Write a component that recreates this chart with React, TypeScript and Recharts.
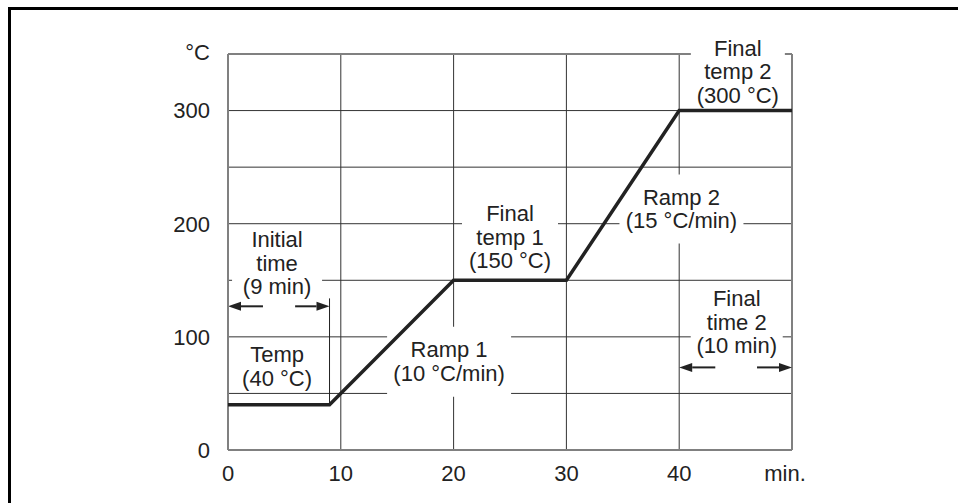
import React from 'react';
import { ComposedChart, Line, XAxis, YAxis, CartesianGrid, ReferenceLine, ReferenceDot } from 'recharts';

// temperature program: hold, ramp, hold, ramp, hold
const timeMin = [0, 9, 20, 30, 40, 50];
const tempC = [40, 40, 150, 150, 300, 300];

const xTicks = [0, 10, 20, 30, 40, 50];
const yTicks = [0, 100, 200, 300, 350];
const gridX = [10, 20, 30, 40];
const gridY = [50, 100, 150, 200, 250, 300];

const noteLines = [
  ['Initial', 'time', '(9 min)'],
  ['Temp', '(40 °C)'],
  ['Ramp 1', '(10 °C/min)'],
  ['Final', 'temp 1', '(150 °C)'],
  ['Ramp 2', '(15 °C/min)'],
  ['Final', 'time 2', '(10 min)'],
  ['Final', 'temp 2', '(300 °C)'],
];
const noteAtMin = [4.35, 4.35, 19.6, 25.0, 40.2, 45.1, 45.2];
const noteAtC = [165, 74, 78, 188, 213, 113, 334.5];

// time-span arrows: [from, to(head), at temp]
const arrowFrom = [3.1, 5.95, 43.2, 46.9];
const arrowTo = [0, 9, 40, 50];
const arrowAtC = [127, 127, 73, 73];

const data = timeMin.map((t, i) => ({ t, c: tempC[i] }));

const FONT = '"Liberation Sans", Arial, sans-serif';
const INK = '#222';
const AXIS = '#808080';
const FS = 22;
const LH = 23.5;

// white backing boxes that cut the grid behind the notes [w, h]
const boxSize: [number, number][] = [[90, 68], [0, 0], [124, 70], [96, 72], [124, 69], [92, 71], [94, 70]];

const Note = (props: any) => {
  const { cx, cy, idx } = props;
  const lines = noteLines[idx];
  const [w, h] = boxSize[idx];
  const top = cy - ((lines.length - 1) * LH) / 2;
  return (
    <g>
      {w > 0 && <rect x={cx - w / 2} y={cy - h / 2} width={w} height={h} fill="#fff" />}
      {lines.map((s, i) => (
        <text key={i} x={cx} y={top + i * LH} textAnchor="middle" dominantBaseline="central"
          fontFamily={FONT} fontSize={FS} fill={INK}>{s}</text>
      ))}
    </g>
  );
};

const Arrow = (props: any) => {
  const { x1, y1, x2, y2 } = props;
  const dir = x2 > x1 ? 1 : -1;
  const hl = 13;
  return (
    <g>
      <line x1={x1} y1={y1} x2={x2 - dir * hl} y2={y2} stroke={INK} strokeWidth={2} />
      <polygon points={`${x2},${y2} ${x2 - dir * hl},${y2 - 4.5} ${x2 - dir * hl},${y2 + 4.5}`} fill={INK} />
    </g>
  );
};

const XTick = (props: any) => {
  const { x, y, payload } = props;
  const last = payload.value === 50;
  return (
    <text x={last ? x - 7 : x} y={y} dy="0.71em" textAnchor="middle" fontFamily={FONT} fontSize={FS} fill={INK}>
      {last ? 'min.' : payload.value}
    </text>
  );
};

const YTick = (props: any) => {
  const { x, y, payload } = props;
  return (
    <text x={x} y={payload.value === 350 ? y - 2 : y} dy="0.355em" textAnchor="end" fontFamily={FONT} fontSize={FS} fill={INK}>
      {payload.value === 350 ? '°C' : payload.value}
    </text>
  );
};

export default function App() {
  return (
    <div style={{ position: 'absolute', left: 0, top: 0, width: 958, height: 503, background: '#fff' }}>
      <div style={{ position: 'absolute', left: 8, top: 7, width: 960, height: 500, borderLeft: '3px solid #000', borderTop: '3px solid #000' }} />
      <div style={{ position: 'absolute', left: 0, top: 0 }}>
        <ComposedChart width={958} height={503} data={data} margin={{ top: 54, right: 166, bottom: 13, left: 168 }}>
          <CartesianGrid stroke="#333" strokeWidth={1} horizontalValues={gridY} verticalValues={gridX} />
          <XAxis dataKey="t" type="number" domain={[0, 50]} ticks={xTicks} height={40}
            axisLine={{ stroke: AXIS, strokeWidth: 2 }} tickLine={false} tickSize={0} tickMargin={15} tick={<XTick />} interval={0} />
          <YAxis type="number" domain={[0, 350]} ticks={yTicks} width={60}
            axisLine={{ stroke: AXIS, strokeWidth: 2 }} tickLine={false} tickSize={0} tickMargin={18} tick={<YTick />} interval={0} />
          <ReferenceLine y={350} stroke={AXIS} strokeWidth={2} />
          <ReferenceLine x={50} stroke={AXIS} strokeWidth={2} />
          <ReferenceLine segment={[{ x: 9, y: 40 }, { x: 9, y: 134 }]} stroke={INK} strokeWidth={1} />
          {noteLines.map((_, i) => (
            <ReferenceDot key={'n' + i} x={noteAtMin[i]} y={noteAtC[i]} r={0} ifOverflow="visible"
              shape={(p: any) => <Note {...p} idx={i} />} />
          ))}
          {arrowFrom.map((f, i) => (
            <ReferenceLine key={'a' + i} segment={[{ x: f, y: arrowAtC[i] }, { x: arrowTo[i], y: arrowAtC[i] }]}
              ifOverflow="visible" shape={(p: any) => <Arrow {...p} />} />
          ))}
          <Line type="linear" dataKey="c" stroke={INK} strokeWidth={3.5} dot={false} isAnimationActive={false} zIndex={3000} />
        </ComposedChart>
      </div>
    </div>
  );
}
